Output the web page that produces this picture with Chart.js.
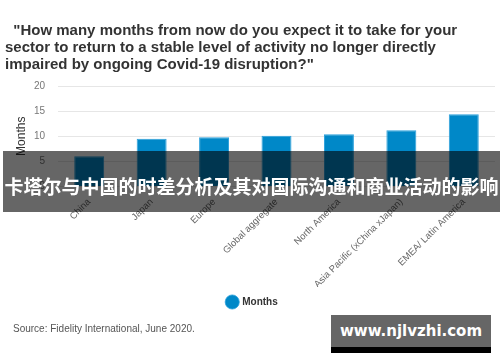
<!DOCTYPE html>
<html><head><meta charset="utf-8">
<script src="https://cdn.jsdelivr.net/npm/chart.js@4/dist/chart.umd.min.js"></script>
<style>
html,body{margin:0;padding:0;background:#fff;width:500px;height:362px;overflow:hidden;font-family:"Liberation Sans",Arial,sans-serif;}
#wrap{position:absolute;left:0;top:0;width:500px;height:362px;}
#title{position:absolute;left:5px;top:21px;font-weight:bold;font-size:15px;line-height:17px;color:#333;white-space:pre;}
#source{position:absolute;left:13px;top:323px;font-size:10px;color:#555;}
#banner{position:absolute;left:3px;top:151px;width:497px;height:61px;background:rgba(0,0,0,0.6);color:#fff;font-family:"Noto Sans CJK SC",sans-serif;font-weight:bold;font-size:19px;line-height:61px;text-align:center;white-space:nowrap;padding-top:4px;box-sizing:border-box;}
#wm{position:absolute;left:331px;top:315px;width:160px;height:32px;background:#666;color:#fff;font-family:"DejaVu Sans",sans-serif;font-weight:bold;font-size:15px;line-height:32px;text-align:center;border-bottom:6px solid #000;}
</style></head>
<body>
<div id="wrap"><canvas id="c" width="500" height="362"></canvas></div>
<div id="title"></div>
<div id="source"></div>
<div id="banner"></div>
<div id="wm"></div>
<script>
const titleLines = [
  '  "How many months from now do you expect it to take for your',
  'sector to return to a stable level of activity no longer directly',
  'impaired by ongoing Covid-19 disruption?"'
];
const sourceText = 'Source: Fidelity International, June 2020.';
const bannerText = '卡塔尔与中国的时差分析及其对国际沟通和商业活动的影响';
const watermarkText = 'www.njlvzhi.com';
const categories = ['China','Japan','Europe','Global aggregate','North America','Asia Pacific (xChina xJapan)','EMEA/ Latin America'];
const seriesName = 'Months';
const monthsValues = [6.0, 9.5, 9.8, 10.1, 10.4, 11.2, 14.4];
const yTicks = [0, 5, 10, 15, 20];

document.getElementById('title').textContent = titleLines.join('\n');
document.getElementById('source').textContent = sourceText;
document.getElementById('banner').textContent = bannerText;
document.getElementById('wm').textContent = watermarkText;

new Chart(document.getElementById('c'), {
  type: 'bar',
  data: {
    labels: categories,
    datasets: [{
      label: seriesName,
      data: monthsValues,
      backgroundColor: '#0088c8',
      borderColor: '#2aa0dc',
      borderWidth: {top:1,left:1,right:1,bottom:0},
      barPercentage: 0.6,
      categoryPercentage: 0.8
    }]
  },
  options: {
    responsive: false,
    animation: false,
    devicePixelRatio: 1,
    layout: { padding: { left: 10, right: 5, top: 86, bottom: 45 } },
    plugins: {
      legend: {
        position: 'bottom',
        labels: {
          usePointStyle: true, pointStyle: 'circle', boxWidth: 10, boxHeight: 10,
          padding: 10, color: '#333',
          font: { family: '"Liberation Sans", Arial, sans-serif', size: 10, weight: 'bold' }
        }
      },
      tooltip: { enabled: false }
    },
    scales: {
      x: {
        grid: { display: false },
        border: { display: false },
        ticks: {
          minRotation: 45, maxRotation: 45, color: '#666', padding: 2,
          font: { family: '"Liberation Sans", Arial, sans-serif', size: 9.5 }
        },
        afterFit(s) { s.height = 100.5; }
      },
      y: {
        min: 0, max: 20,
        afterBuildTicks(s) { s.ticks = yTicks.map(v => ({ value: v })); },
        grid: { color: '#e6e6e6', drawTicks: false },
        border: { display: false },
        ticks: {
          color: '#777', padding: 13,
          font: { family: '"Liberation Sans", Arial, sans-serif', size: 10 }
        },
        title: {
          display: true, text: seriesName, color: '#333',
          font: { family: '"Liberation Sans", Arial, sans-serif', size: 12 }
        },
        afterFit(s) { s.width = 48; }
      }
    }
  }
});
</script>
</body></html>
